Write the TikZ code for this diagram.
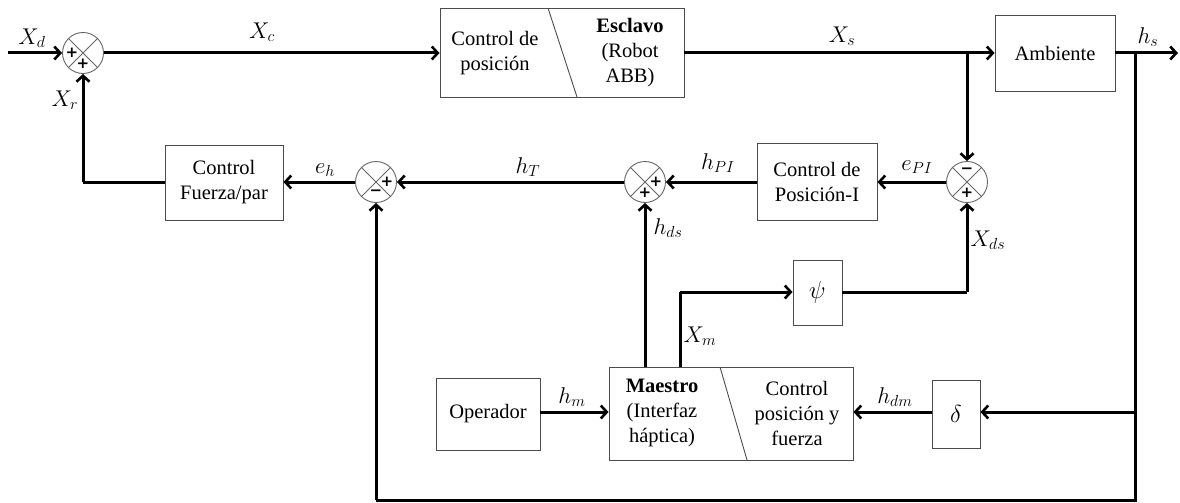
\documentclass[tikz,border=0pt]{standalone}
\usepackage{fix-cm}
\usepackage{fontspec}
\setmainfont{Liberation Serif}
\newfontfamily\signfont{DejaVu Sans}
\usetikzlibrary{arrows.meta,calc}
\newcommand{\mlab}[1]{\scalebox{1.2}{$#1$}}
\begin{document}
\begin{tikzpicture}[x=1pt,y=-1pt,
  blk/.style={draw=black!70, line width=0.9pt, rectangle, inner sep=0pt, align=center, font=\fontsize{20.5}{25}\selectfont},
  sumj/.style={draw=black!60, line width=0.9pt, circle, minimum size=41pt, inner sep=0pt},
  wire/.style={line width=3pt},
  sig/.style={line width=3pt, -{Straight Barb[length=6pt,width=13pt,line width=2.6pt]}},
  lbl/.style={inner sep=0pt, font=\fontsize{19}{22}\selectfont},
  sgn/.style={inner sep=0pt, font=\fontsize{15}{15}\selectfont\signfont\bfseries},
  txt/.style={inner sep=0pt, align=center, font=\fontsize{20.5}{25}\selectfont}
]
\useasboundingbox (0,0) rectangle (1180,503);
% blocks
\node[blk, minimum width=244pt, minimum height=89pt] (b1) at (562,52.5) {};
\draw[black!70, line width=0.9pt] (548,8) -- (577,97);
\node[txt] (b1l) at (495,53) {Control de\\posición};
\node[txt] (b1r) at (630,53) {\textbf{Esclavo}\\(Robot\\ABB)};
\node[blk, minimum width=120pt, minimum height=76pt] (amb) at (1055,53) {Ambiente};
\node[blk, minimum width=120pt, minimum height=77pt] (cpi) at (817,181.5) {Control de\\Posición-I};
\node[blk, minimum width=118pt, minimum height=75pt] (cfp) at (224,182.5) {Control\\Fuerza/par};
\node[blk, minimum width=49pt, minimum height=65pt] (psi) at (817.5,292.5) {\mlab{\psi}};
\node[blk, minimum width=244pt, minimum height=93pt] (mae) at (731,413.5) {};
\draw[black!70, line width=0.9pt] (720,367) -- (747,460);
\node[txt] (mael) at (662,413) {\textbf{Maestro}\\(Interfaz\\háptica)};
\node[txt] (maer) at (797,413) {Control\\posición y\\fuerza};
\node[blk, minimum width=104pt, minimum height=72pt] (ope) at (488,414) {Operador};
\node[blk, minimum width=48pt, minimum height=68pt] (del) at (956,414) {\mlab{\delta}};
% summing junctions
\node[sumj] (s1) at (83,53) {};
\node[sumj] (s2) at (376,182) {};
\node[sumj] (s3) at (645,182) {};
\node[sumj] (s4) at (967,182) {};
\foreach \s in {s1,s2,s3,s4}{
  \draw[black!60, line width=0.9pt] (\s.45) -- (\s.225) (\s.135) -- (\s.315);
}
\node[sgn] at ($(s1)+(-11,0)$) {+};
\node[sgn] at ($(s1)+(0,11)$) {+};
\node[sgn] at ($(s2)+(11,0)$) {+};
\node[sgn] at ($(s2)+(0,11)$) {−};
\node[sgn] at ($(s3)+(11,0)$) {+};
\node[sgn] at ($(s3)+(0,11)$) {+};
\node[sgn] at ($(s4)+(0,-11)$) {−};
\node[sgn] at ($(s4)+(0,11)$) {+};
% coordinates
\coordinate (xin) at (8,53);
\coordinate (hout) at (1178,53);
\coordinate (bx) at (967,53);
\coordinate (bh) at (1135,53);
\coordinate (bhd) at (1135,412);
\coordinate (bb) at (1135,500);
\coordinate (bl) at (376,500);
\coordinate (mhd) at (645,367);
\coordinate (mx) at (680,367);
\coordinate (mxu) at (680,292);
\coordinate (psr) at (967,292);
\coordinate (fl) at (83,182);
% connectors
\draw[sig] (xin) -- (s1.west);
\draw[sig] (s1.east) -- (b1.west |- s1.east);
\draw[sig] (b1.east |- s1.east) -- (amb.west |- s1.east);
\draw[sig] (amb.east |- s1.east) -- (hout);
\draw[sig] (bx) -- (s4.north);
\draw[wire] (bh) -- (bb) -- (bl);
\draw[sig] (bl) -- (s2.south);
\draw[sig] (bhd) -- (del.east |- bhd);
\draw[sig] (del.west |- bhd) -- (mae.east |- bhd);
\draw[sig] (ope.east |- bhd) -- (mae.west |- bhd);
\draw[sig] (mhd) -- (s3.south);
\draw[wire] (mx) -- (mxu);
\draw[sig] (mxu) -- (psi.west |- mxu);
\draw[wire] (psi.east |- mxu) -- (psr);
\draw[sig] (psr) -- (s4.south);
\draw[sig] (s4.west) -- (cpi.east |- s4.west);
\draw[sig] (cpi.west |- s3.east) -- (s3.east);
\draw[sig] (s3.west) -- (s2.east);
\draw[sig] (s2.west) -- (cfp.east |- s2.west);
\draw[wire] (cfp.west |- s2.west) -- (fl);
\draw[sig] (fl) -- (s1.south);
% labels
\node[lbl] at (32,38) {\mlab{X_d}};
\node[lbl] at (262,32) {\mlab{X_c}};
\node[lbl] at (842,36) {\mlab{X_s}};
\node[lbl] at (1148,37) {\mlab{h_s}};
\node[lbl] at (65,100) {\mlab{X_r}};
\node[lbl] at (325,170) {\mlab{e_h}};
\node[lbl] at (528,167) {\mlab{h_T}};
\node[lbl] at (718,163) {\mlab{h_{PI}}};
\node[lbl] at (917,167) {\mlab{e_{PI}}};
\node[lbl] at (668,228) {\mlab{h_{ds}}};
\node[lbl] at (988,240) {\mlab{X_{ds}}};
\node[lbl] at (700,336) {\mlab{X_m}};
\node[lbl] at (572,397) {\mlab{h_m}};
\node[lbl] at (895,397) {\mlab{h_{dm}}};
\end{tikzpicture}
\end{document}
